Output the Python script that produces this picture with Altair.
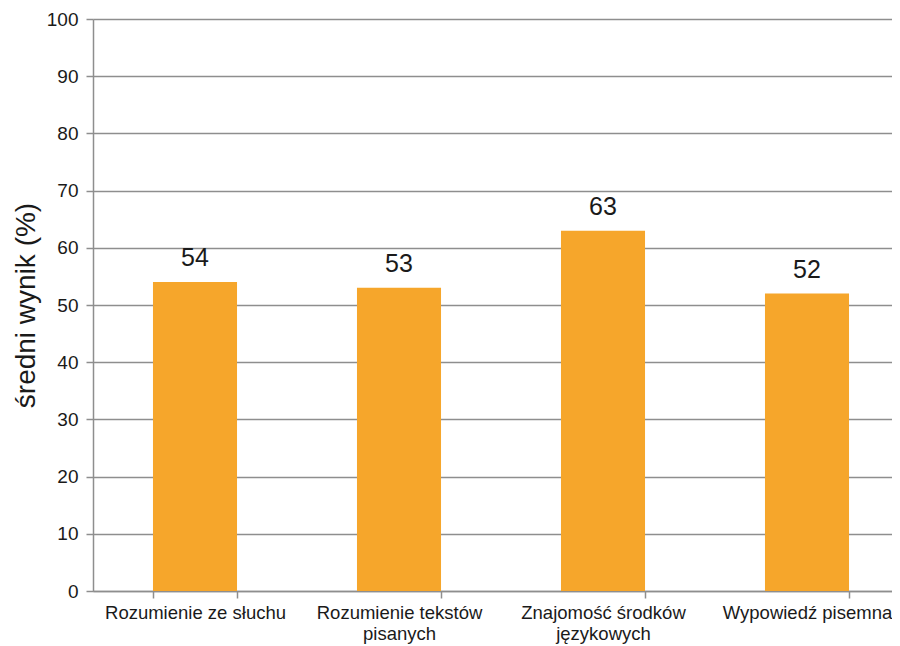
import altair as alt
import pandas as pd

categories = [
    "Rozumienie ze słuchu",
    "Rozumienie tekstów\npisanych",
    "Znajomość środków\njęzykowych",
    "Wypowiedź pisemna",
]
values = [54, 53, 63, 52]

df = pd.DataFrame({"kat": categories, "wynik": values})

FONT = "Liberation Sans"

x = alt.X(
    "kat:N",
    sort=categories,
    title=None,
    scale=alt.Scale(paddingInner=0.588, paddingOuter=0.294),
    axis=alt.Axis(
        labelExpr="split(datum.label, '\\n')",
        labelAngle=0,
        labelFontSize=18.5,
        labelLineHeight=21,
        labelLimit=300,
        labelColor="#1a1a1a",
        labelFont=FONT,
        labelPadding=5,
        tickBand="extent",
        tickSize=7,
        tickColor="#8e8e8e",
        tickWidth=1.5,
        domainColor="#8e8e8e",
        domainWidth=1.5,
        grid=False,
    ),
)

y = alt.Y(
    "wynik:Q",
    title="średni wynik (%)",
    scale=alt.Scale(domain=[0, 100], nice=False),
    axis=alt.Axis(
        values=list(range(0, 101, 10)),
        labelFontSize=19,
        labelColor="#1a1a1a",
        labelFont=FONT,
        labelPadding=8,
        tickSize=7,
        tickColor="#8e8e8e",
        tickWidth=1.5,
        domainColor="#8e8e8e",
        domainWidth=1.5,
        gridColor="#8e8e8e",
        gridWidth=1.3,
        titleFontSize=28,
        titleFont=FONT,
        titleFontWeight="normal",
        titleColor="#1a1a1a",
        titlePadding=6,
    ),
)

bars = alt.Chart(df).mark_bar(color="#F6A62B").encode(x=x, y=y)
labels = alt.Chart(df).mark_text(
    fontSize=25, font=FONT, color="#1a1a1a", baseline="alphabetic", dy=-16
).encode(x=alt.X("kat:N", sort=categories), y="wynik:Q", text="wynik:Q")

chart = (
    alt.layer(bars, labels)
    .properties(
        width=816,
        height=572,
        autosize=alt.AutoSizeParams(type="none"),
        padding={"left": 85, "top": 11, "right": -17, "bottom": 55},
    )
    .configure_view(stroke=None)
    .configure(background="white")
)

chart.save("out.html", embed_options={"renderer": "svg", "actions": False})
